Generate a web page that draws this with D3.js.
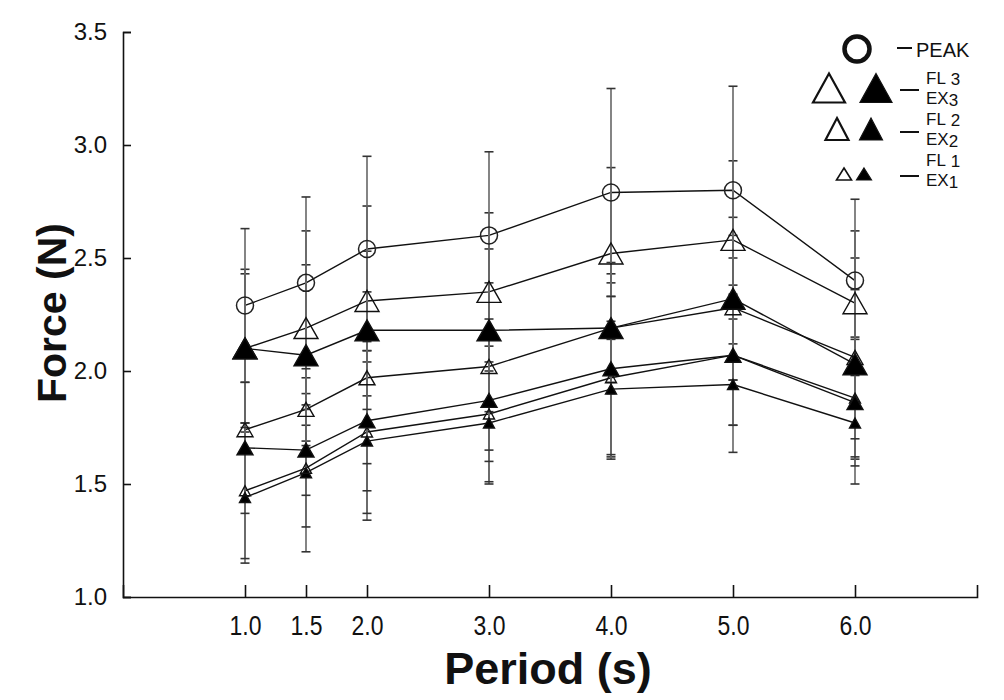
<!DOCTYPE html>
<html>
<head>
<meta charset="utf-8">
<script src="https://cdn.jsdelivr.net/npm/d3@7"></script>
<style>
  html, body { margin: 0; padding: 0; background: #fff; }
  svg { display: block; }
</style>
</head>
<body>
<svg id="chart" width="1004" height="700"></svg>
<script>
// ---- data ----
const periods = [1.0, 1.5, 2.0, 3.0, 4.0, 5.0, 6.0];
const xTickValues = [1.0, 1.5, 2.0, 3.0, 4.0, 5.0, 6.0];
const yTickValues = [1.0, 1.5, 2.0, 2.5, 3.0, 3.5];

const peak   = [2.29, 2.39, 2.54, 2.60, 2.79, 2.80, 2.40];
const peakSD = [0.34, 0.38, 0.41, 0.37, 0.46, 0.46, 0.36];
const fl3    = [2.10, 2.19, 2.31, 2.35, 2.52, 2.58, 2.30];
const fl3SD  = [0.33, 0.43, 0.42, 0.35, 0.38, 0.35, 0.32];
const ex3    = [2.10, 2.07, 2.18, 2.18, 2.19, 2.32, 2.03];
const ex3SD  = [0.35, 0.40, 0.35, 0.36, 0.29, 0.36, 0.33];
const fl2    = [1.74, 1.83, 1.97, 2.02, 2.19, 2.28, 2.06];
const fl2SD  = [0.32, 0.14, 0.38, 0.37, 0.24, 0.32, 0.44];
const ex2    = [1.66, 1.65, 1.78, 1.87, 2.01, 2.07, 1.86];
const ex2SD  = [0.29, 0.20, 0.31, 0.27, 0.38, 0.31, 0.28];
const fl1    = [1.47, 1.57, 1.73, 1.81, 1.97, 2.07, 1.88];
const fl1SD  = [0.30, 0.26, 0.36, 0.30, 0.36, 0.43, 0.27];
const ex1    = [1.44, 1.55, 1.69, 1.77, 1.92, 1.94, 1.77];
const ex1SD  = [0.29, 0.35, 0.35, 0.27, 0.30, 0.18, 0.27];

const legendLabels = ["PEAK", "FL", "EX"];
const legendSubs = ["3", "2", "1"];

// ---- series table built from arrays ----
const series = [
  {name: "EX1", vals: ex1, sd: ex1SD, shape: "tri", size: "s", fill: true},
  {name: "FL1", vals: fl1, sd: fl1SD, shape: "tri", size: "s", fill: false},
  {name: "EX2", vals: ex2, sd: ex2SD, shape: "tri", size: "m", fill: true},
  {name: "FL2", vals: fl2, sd: fl2SD, shape: "tri", size: "m", fill: false},
  {name: "FL3", vals: fl3, sd: fl3SD, shape: "tri", size: "l", fill: false},
  {name: "EX3", vals: ex3, sd: ex3SD, shape: "tri", size: "l", fill: true},
  {name: "PEAK", vals: peak, sd: peakSD, shape: "circle", size: "l", fill: false}
];

const triSize = {s: [11, 10], m: [16, 14], l: [24, 21]};

const svg = d3.select("#chart");
const x = d3.scaleLinear().domain([0, 7]).range([123, 977]);
const y = d3.scaleLinear().domain([1.0, 3.5]).range([597, 32]);

function triPath(w, h) {
  return `M0,${-h/2}L${w/2},${h/2}L${-w/2},${h/2}Z`;
}

// ---- axes ----
const yAxis = d3.axisLeft(y).tickValues(yTickValues).tickFormat(d3.format(".1f"))
  .tickSizeInner(-8).tickSizeOuter(-8).tickPadding(16);
const gy = svg.append("g").attr("transform", `translate(${x(0)},0)`).call(yAxis);
gy.selectAll("text").attr("font-family", "Liberation Sans, Arial, sans-serif")
  .attr("font-size", 24).attr("fill", "#111");
gy.selectAll("path,line").attr("stroke", "#111").attr("stroke-width", 1.6);

const xAxis = d3.axisBottom(x).tickValues(xTickValues).tickFormat(d3.format(".1f"))
  .tickSizeInner(-12).tickSizeOuter(-12).tickPadding(18);
const gx = svg.append("g").attr("transform", `translate(0,${y(1.0)})`).call(xAxis);
gx.selectAll("text").attr("font-family", "Liberation Sans, Arial, sans-serif")
  .attr("font-size", 28).attr("fill", "#111")
  .attr("transform", "scale(0.82,1)");
gx.selectAll("path,line").attr("stroke", "#111").attr("stroke-width", 1.6);

// axis titles
svg.append("text")
  .attr("transform", `translate(66,313) rotate(-90)`)
  .attr("text-anchor", "middle")
  .attr("font-family", "Liberation Sans, Arial, sans-serif")
  .attr("font-weight", "bold").attr("font-size", 41).attr("fill", "#111")
  .text("Force (N)");
svg.append("text")
  .attr("x", 548).attr("y", 684)
  .attr("text-anchor", "middle")
  .attr("font-family", "Liberation Sans, Arial, sans-serif")
  .attr("font-weight", "bold").attr("font-size", 45).attr("fill", "#111")
  .text("Period (s)");

// ---- lines ----
const line = d3.line().x((d, i) => x(periods[i])).y(d => y(d));
const plot = svg.append("g");
series.forEach(s => {
  plot.append("path").datum(s.vals)
    .attr("d", line).attr("fill", "none")
    .attr("stroke", "#111").attr("stroke-width", 1.4);
});

// ---- error bars ----
const eb = svg.append("g");
series.forEach(s => {
  s.vals.forEach((v, i) => {
    const cx = x(periods[i]);
    const lo = y(v - s.sd[i]), hi = y(v + s.sd[i]);
    eb.append("line").attr("x1", cx).attr("x2", cx).attr("y1", lo).attr("y2", hi)
      .attr("stroke", "#666").attr("stroke-width", 1.6);
    [lo, hi].forEach(yy => {
      eb.append("line").attr("x1", cx - 4.5).attr("x2", cx + 4.5).attr("y1", yy).attr("y2", yy)
        .attr("stroke", "#333").attr("stroke-width", 1.6);
    });
  });
});

// ---- markers ----
const mk = svg.append("g");
series.forEach(s => {
  s.vals.forEach((v, i) => {
    const cx = x(periods[i]), cy = y(v);
    if (s.shape === "circle") {
      mk.append("circle").attr("cx", cx).attr("cy", cy).attr("r", 8.5)
        .attr("fill", "none").attr("stroke", "#222").attr("stroke-width", 1.5);
    } else {
      const [w, h] = triSize[s.size];
      mk.append("path").attr("d", triPath(w, h))
        .attr("transform", `translate(${cx},${cy})`)
        .attr("fill", s.fill ? "#000" : "none")
        .attr("stroke", "#111").attr("stroke-width", 1.4);
    }
  });
});

// ---- legend ----
const lg = svg.append("g").attr("font-family", "Liberation Sans, Arial, sans-serif").attr("fill", "#111");
// PEAK
lg.append("circle").attr("cx", 857).attr("cy", 49).attr("r", 12.5)
  .attr("fill", "none").attr("stroke", "#111").attr("stroke-width", 4.5);
lg.append("line").attr("x1", 897).attr("x2", 912).attr("y1", 48).attr("y2", 48)
  .attr("stroke", "#111").attr("stroke-width", 2);
lg.append("text").attr("x", 916).attr("y", 57).attr("font-size", 20).text(legendLabels[0]);

const legRows = [
  {size: [32, 29], cy: 88, ox: 829, fx: 876, dashY: 90, flY: 84},
  {size: [23, 22], cy: 129, ox: 837, fx: 871, dashY: 132, flY: 125},
  {size: [15, 12], cy: 174, ox: 844, fx: 864, dashY: 176, flY: 166}
];
legRows.forEach((r, k) => {
  const [w, h] = r.size;
  lg.append("path").attr("d", triPath(w, h)).attr("transform", `translate(${r.ox},${r.cy})`)
    .attr("fill", "#fff").attr("stroke", "#111").attr("stroke-width", w > 20 ? 2.2 : 1.6);
  lg.append("path").attr("d", triPath(w, h)).attr("transform", `translate(${r.fx},${r.cy})`)
    .attr("fill", "#000").attr("stroke", "#111").attr("stroke-width", 1.2);
  lg.append("line").attr("x1", 900).attr("x2", 919).attr("y1", r.dashY).attr("y2", r.dashY)
    .attr("stroke", "#111").attr("stroke-width", 2);
  // FL over EX, each with a lowered index
  const t1 = lg.append("text").attr("x", 926).attr("y", r.flY).attr("font-size", 17);
  t1.append("tspan").text(legendLabels[1]);
  t1.append("tspan").attr("dx", 5).attr("dy", 1).text(legendSubs[k]);
  const t2 = lg.append("text").attr("x", 926).attr("y", r.flY + 20).attr("font-size", 17);
  t2.append("tspan").text(legendLabels[2]);
  t2.append("tspan").attr("dy", 2).text(legendSubs[k]);
});
</script>
</body>
</html>
